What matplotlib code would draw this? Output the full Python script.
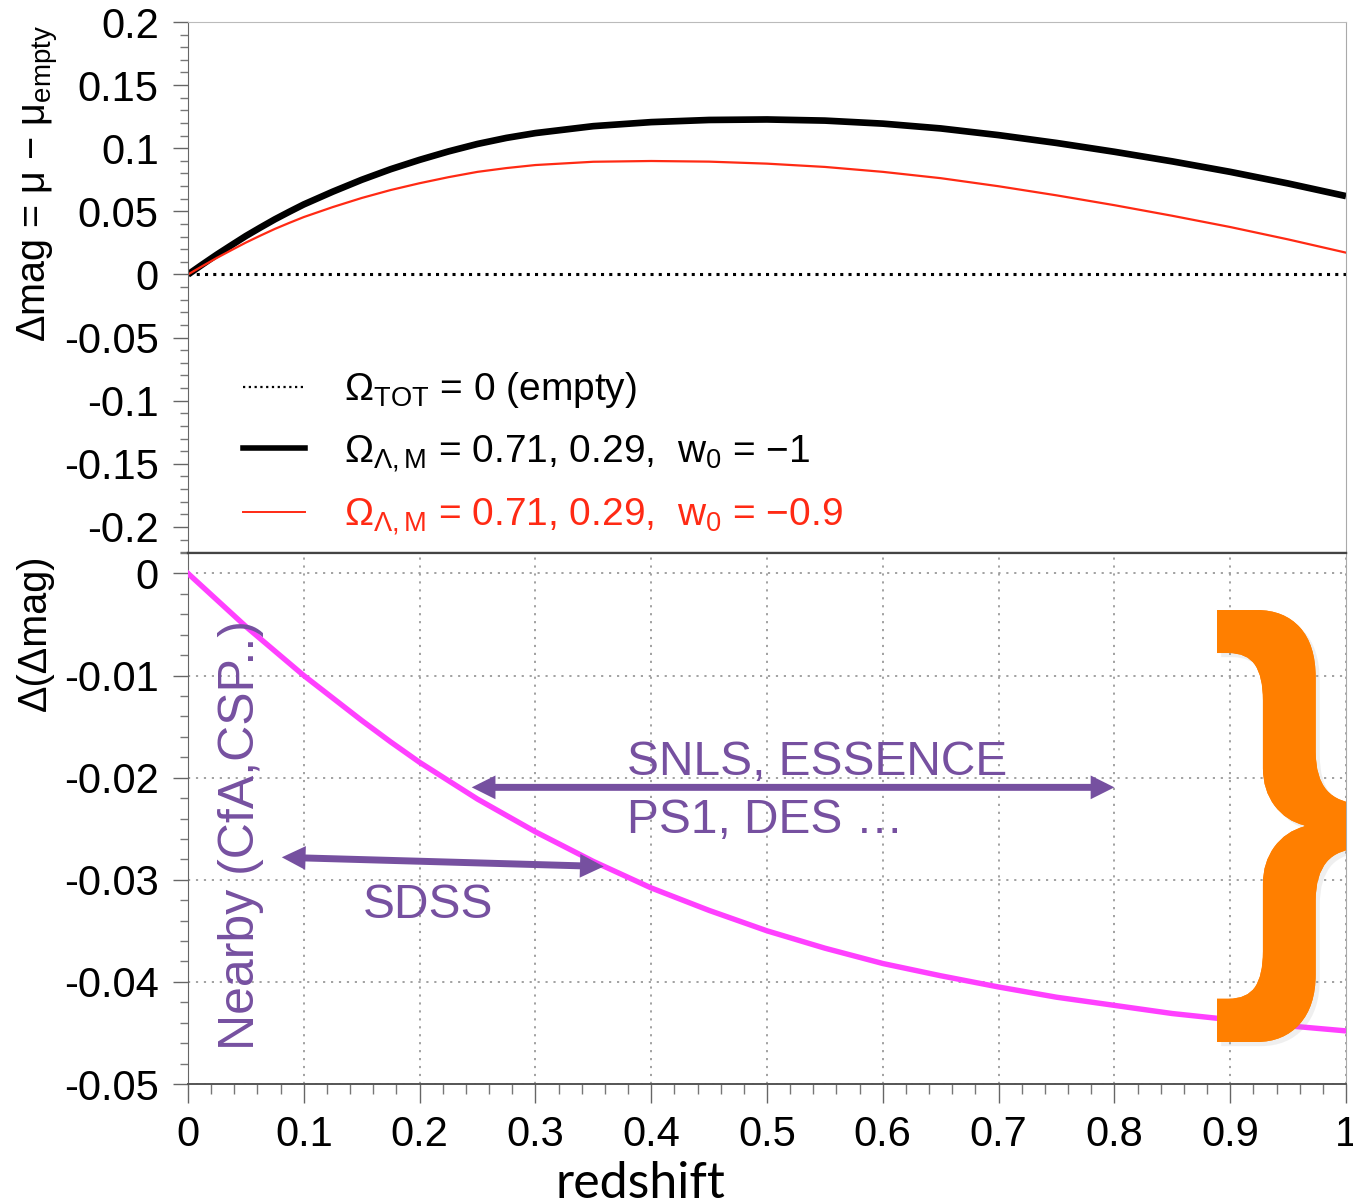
import matplotlib
matplotlib.use('Agg')
import matplotlib.pyplot as plt
from matplotlib.ticker import MultipleLocator
from matplotlib.lines import Line2D
from matplotlib.textpath import TextPath
from matplotlib.patches import PathPatch
from matplotlib.font_manager import FontProperties
from matplotlib.transforms import Affine2D
import matplotlib.patheffects as pe

plt.rcParams['font.family'] = ['Liberation Sans', 'DejaVu Sans']
plt.rcParams['mathtext.fontset'] = 'custom'
plt.rcParams['mathtext.rm'] = 'Liberation Sans'
plt.rcParams['mathtext.it'] = 'Liberation Sans:italic'
plt.rcParams['mathtext.bf'] = 'Liberation Sans:bold'

# ---------------- data ----------------
redshift = [0.0, 0.0125, 0.025, 0.0375, 0.05, 0.0625, 0.075, 0.0875, 0.1, 0.125,
            0.15, 0.175, 0.2, 0.225, 0.25, 0.275, 0.3, 0.35, 0.4, 0.45,
            0.5, 0.55, 0.6, 0.65, 0.7, 0.75, 0.8, 0.85, 0.9, 0.95, 1.0]
dmag_empty = [0.0] * len(redshift)
dmag_w1 = [0.0, 0.0080, 0.0158, 0.0232, 0.0305, 0.0372, 0.0437, 0.0497, 0.0555, 0.0656,
           0.0750, 0.0834, 0.0908, 0.0975, 0.1034, 0.1082, 0.1120,
           0.1175, 0.1207, 0.1224, 0.1228, 0.1219, 0.1195, 0.1157, 0.1104,
           0.1042, 0.0972, 0.0896, 0.0813, 0.0721, 0.0621]
dmag_w09 = [0.0, 0.0067, 0.0132, 0.0193, 0.0253, 0.0308, 0.0361, 0.0409, 0.0455, 0.0534,
            0.0606, 0.0669, 0.0723, 0.0771, 0.0813, 0.0843, 0.0867,
            0.0893, 0.0899, 0.0894, 0.0878, 0.0852, 0.0813, 0.0763, 0.0699,
            0.0627, 0.0549, 0.0465, 0.0376, 0.0278, 0.0173]
ddmag = [0.0, -0.0013, -0.0026, -0.0039, -0.0052, -0.0064, -0.0076, -0.0088, -0.0100,
         -0.0122, -0.0144, -0.0165, -0.0185, -0.0203, -0.0221, -0.0237,
         -0.0253, -0.0282, -0.0308, -0.0330, -0.0350, -0.0367, -0.0382, -0.0394,
         -0.0405, -0.0415, -0.0423, -0.0431, -0.0437, -0.0443, -0.0448]

top_yticks = [0.2, 0.15, 0.1, 0.05, 0.0, -0.05, -0.1, -0.15, -0.2]
top_ylabels = ['0.2', '0.15', '0.1', '0.05', '0', '-0.05', '-0.1', '-0.15', '-0.2']
bot_yticks = [0.0, -0.01, -0.02, -0.03, -0.04, -0.05]
bot_ylabels = ['0', '-0.01', '-0.02', '-0.03', '-0.04', '-0.05']
xticks = [0.0, 0.1, 0.2, 0.3, 0.4, 0.5, 0.6, 0.7, 0.8, 0.9, 1.0]
xlabels = ['0', '0.1', '0.2', '0.3', '0.4', '0.5', '0.6', '0.7', '0.8', '0.9', '1']

legend_labels = [r'$\mathregular{Ω_{TOT}}$ = 0 (empty)',
                 r'$\mathregular{Ω_{Λ,M}}$ = 0.71, 0.29,  $\mathregular{w_0}$ = −1',
                 r'$\mathregular{Ω_{Λ,M}}$ = 0.71, 0.29,  $\mathregular{w_0}$ = −0.9']

# survey ranges (redshift start/end, level)
snls_range = (0.245, 0.80, -0.02095, -0.02095)
sdss_range = (0.081, 0.359, -0.0278, -0.0287)

PURPLE = '#7650A0'
RED = '#FF2A14'
MAGENTA = '#FF40FF'
ORANGE = '#FF7F00'

W, H = 1353, 1204
fig = plt.figure(figsize=(W / 100, H / 100), dpi=100)
L, R = 188 / W, 1346 / W
ax1 = fig.add_axes([L, 1 - 553 / H, R - L, (553 - 22) / H])
ax2 = fig.add_axes([L, 1 - 1084 / H, R - L, (1084 - 553) / H])

TICK_FS = 30

# ---------------- top panel ----------------
ax1.plot(redshift, dmag_empty, color='black', lw=2.2, linestyle=(0, (1, 1.7)))
ax1.plot(redshift, dmag_w1, color='black', lw=4.8, solid_capstyle='butt',
         solid_joinstyle='round')
ax1.plot(redshift, dmag_w09, color=RED, lw=1.6)
ax1.set_xlim(0, 1)
ax1.set_ylim(-0.2206, 0.2)
ax1.set_yticks(top_yticks, top_ylabels)
ax1.yaxis.set_minor_locator(MultipleLocator(0.01))
ax1.tick_params(axis='x', which='both', bottom=False, top=False, labelbottom=False)
ax1.tick_params(axis='y', which='major', direction='out', length=11, width=1,
                color='#666666', labelsize=TICK_FS, pad=10)
ax1.tick_params(axis='y', which='minor', direction='out', length=6, width=1,
                color='#777777')
ax1.spines['top'].set_color('#bbbbbb')
ax1.spines['right'].set_color('#aaaaaa')
ax1.spines['left'].set_color('#666666')
ax1.spines['bottom'].set_color('#444444')
ax1.spines['bottom'].set_linewidth(1.6)

h0 = Line2D([], [], color='black', lw=1.6, linestyle=(0, (1, 1.6)))
h1 = Line2D([], [], color='black', lw=4.0)
h2 = Line2D([], [], color=RED, lw=1.4)
leg = ax1.legend([h0, h1, h2], legend_labels, loc='center left',
                 bbox_to_anchor=(0.0475, 0.187), frameon=False, fontsize=28,
                 handlelength=1.6, handletextpad=1.0, labelspacing=0.58,
                 borderpad=0, borderaxespad=0)
leg.get_texts()[2].set_color(RED)

fig.text(38 / W, 1 - 183 / H, r'Δmag = μ − $\mathregular{μ_{empty}}$',
         rotation=90, ha='center', va='center', fontsize=28.5)

# ---------------- bottom panel ----------------
ax2.set_axisbelow(True)
ax2.plot(redshift, ddmag, color=MAGENTA, lw=3.9, zorder=3)
ax2.set_xlim(0, 1)
ax2.set_ylim(-0.05, 0.002)
ax2.set_yticks(bot_yticks, bot_ylabels)
ax2.set_xticks(xticks, xlabels)
ax2.yaxis.set_minor_locator(MultipleLocator(0.002))
ax2.xaxis.set_minor_locator(MultipleLocator(0.02))
ax2.grid(True, which='major', color='#9a9a9a', linestyle=(0, (1.2, 3.2)), linewidth=1.3)
ax2.tick_params(axis='y', which='major', direction='out', length=11, width=1,
                color='#666666', labelsize=TICK_FS, pad=10)
ax2.tick_params(axis='y', which='minor', direction='out', length=6, width=1,
                color='#777777')
ax2.tick_params(axis='x', which='major', direction='out', length=14, width=1,
                color='#666666', labelsize=TICK_FS, pad=8)
ax2.tick_params(axis='x', which='minor', direction='out', length=7, width=1,
                color='#777777')
ax2.spines['top'].set_color('#444444')
ax2.spines['top'].set_linewidth(1.6)
ax2.spines['right'].set_color('#aaaaaa')
ax2.spines['left'].set_color('#666666')
ax2.spines['bottom'].set_color('#555555')
ax2.spines['bottom'].set_linewidth(1.4)

fig.text(35 / W, 1 - 633 / H, 'Δ(Δmag)', rotation=90, ha='center', va='center',
         fontsize=28.5)

# arrows
for (x0, x1, y0, y1) in (snls_range, sdss_range):
    ax2.annotate('', xy=(x0, y0), xytext=(x1, y1),
                 arrowprops=dict(arrowstyle='<|-|>,head_length=0.9,head_width=0.45',
                                 color=PURPLE, lw=5, shrinkA=0, shrinkB=0,
                                 joinstyle='miter', capstyle='butt'),
                 zorder=4)

ANN_FS = 34.5
ax2.text(0.379, -0.01977, 'SNLS, ESSENCE', color=PURPLE, fontsize=ANN_FS,
         ha='left', va='baseline', zorder=5)
ax2.text(0.379, -0.02546, 'PS1, DES …', color=PURPLE, fontsize=ANN_FS,
         ha='left', va='baseline', zorder=5)
ax2.text(0.151, -0.03379, 'SDSS', color=PURPLE, fontsize=ANN_FS,
         ha='left', va='baseline', zorder=5)
ax2.text(0.0458, -0.02566, 'Nearby (CfA,CSP..)', color=PURPLE, fontsize=36,
         rotation=90, ha='center', va='center', zorder=5)

# orange brace (a "}" glyph stretched into its box, clipped by the panel)
tp = TextPath((0, 0), '}', size=100,
              prop=FontProperties(family='Liberation Sans', weight='bold'))
ext = tp.get_extents()
bx0, bx1, by_top, by_bot = 1217, 1362, 610, 1042
sx = (bx1 - bx0) / ext.width
sy = (by_bot - by_top) / ext.height
tr = (Affine2D().translate(-ext.x0, -ext.y0).scale(sx / W, sy / H)
      .translate(bx0 / W, 1 - by_bot / H) + fig.transFigure)
brace = PathPatch(tp, transform=tr, facecolor=ORANGE, edgecolor='none', zorder=6,
                  path_effects=[pe.withSimplePatchShadow(offset=(3, -3),
                                                         shadow_rgbFace='#999999',
                                                         alpha=0.15),
                                pe.Normal()])
ax2.add_patch(brace)

fig.text(640 / W, 1 - 1198 / H, 'redshift', family=['Lato', 'DejaVu Sans'],
         fontsize=36, ha='center', va='baseline')

fig.savefig('out.png', dpi=100)
